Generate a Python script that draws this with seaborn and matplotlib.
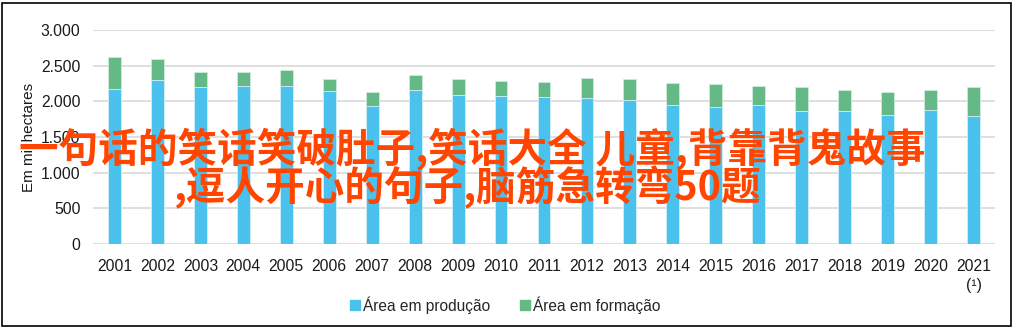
import matplotlib
matplotlib.use("Agg")
import matplotlib.pyplot as plt
import seaborn as sns
import pandas as pd
from matplotlib.patches import Rectangle
from matplotlib.ticker import FuncFormatter, MultipleLocator

years = ["2001", "2002", "2003", "2004", "2005", "2006", "2007", "2008", "2009", "2010",
         "2011", "2012", "2013", "2014", "2015", "2016", "2017", "2018", "2019", "2020", "2021"]
tick_labels = years[:-1] + ["2021\n(¹)"]
producao = [2174, 2305, 2197, 2211, 2216, 2150, 1935, 2164, 2090, 2080,
            2057, 2052, 2015, 1945, 1917, 1945, 1861, 1861, 1809, 1884, 1799]
formacao = [444, 294, 211, 206, 220, 169, 193, 202, 224, 211,
            220, 276, 295, 313, 332, 275, 345, 294, 319, 276, 407]
series_names = ["Área em produção", "Área em formação"]
overlay_line1 = "一句话的笑话笑破肚子,笑话大全 儿童,背靠背鬼故事"
overlay_line2 = ",逗人开心的句子,脑筋急转弯50题"

blue = "#4BC1EE"
green = "#65B986"

df = pd.DataFrame({"ano": years, "prod": producao, "form": formacao})
df["total"] = df["prod"] + df["form"]

sns.set_theme(style="white")
plt.rcParams["font.family"] = ["Liberation Sans", "DejaVu Sans"]

fig = plt.figure(figsize=(10.13, 3.27), dpi=100)
ax = fig.add_axes([93 / 1013, 1 - 244 / 327, (995 - 93) / 1013, (244 - 30) / 327])

sns.barplot(data=df, x="ano", y="total", color=green, width=0.3, ax=ax,
            saturation=1, edgecolor="#CFEBDB", linewidth=0.6, zorder=3)
sns.barplot(data=df, x="ano", y="prod", color=blue, width=0.3, ax=ax,
            saturation=1, edgecolor="#D6F0FB", linewidth=0.6, zorder=4)

ax.set_ylim(0, 3000)
ax.set_xlim(-0.5, len(years) - 0.5)
ax.yaxis.set_major_locator(MultipleLocator(500))
ax.yaxis.set_major_formatter(FuncFormatter(lambda v, p: f"{int(v):,}".replace(",", ".")))
ax.grid(axis="y", color="#D9D9D9", linewidth=1.2, zorder=0)
ax.set_axisbelow(True)
for s in ax.spines.values():
    s.set_visible(False)
ax.set_xticks(range(len(years)))
ax.set_xticklabels(tick_labels, fontsize=11.3, color="#1a1a1a", linespacing=1.35, va="top")
ax.tick_params(axis="y", labelsize=11.3, labelcolor="#1a1a1a", length=0, pad=9)
ax.tick_params(axis="x", length=0, pad=11)
ax.set_xlabel("")
ax.set_ylabel("Em mil hectares", fontsize=11, color="#1a1a1a")
ax.yaxis.set_label_coords(-0.063, 0.5)

handles = [Rectangle((0, 0), 1, 1, color=blue), Rectangle((0, 0), 1, 1, color=green)]
fig.legend(handles, series_names, loc="center", bbox_to_anchor=(505 / 1013, 1 - 305 / 327),
           ncol=2, frameon=False, fontsize=11.2, handlelength=0.65, handleheight=0.65,
           handletextpad=0.2, columnspacing=1.9)

cjk = ["Noto Sans CJK SC", "DejaVu Sans"]
fig.text(472 / 1013, 1 - 149 / 327, overlay_line1, family=cjk, fontsize=28.5,
         fontweight="bold", color="#FF4500", ha="center", va="center", zorder=10)
fig.text(468 / 1013, 1 - 188 / 327, overlay_line2, family=cjk, fontsize=28.5,
         fontweight="bold", color="#FF4500", ha="center", va="center", zorder=10)

fig.patches.append(Rectangle((1.5 / 1013, 1.5 / 327), 1 - 4 / 1013, 1 - 4 / 327,
                             transform=fig.transFigure, fill=False, edgecolor="black",
                             linewidth=1.2))

fig.savefig("out.png", dpi=100)
